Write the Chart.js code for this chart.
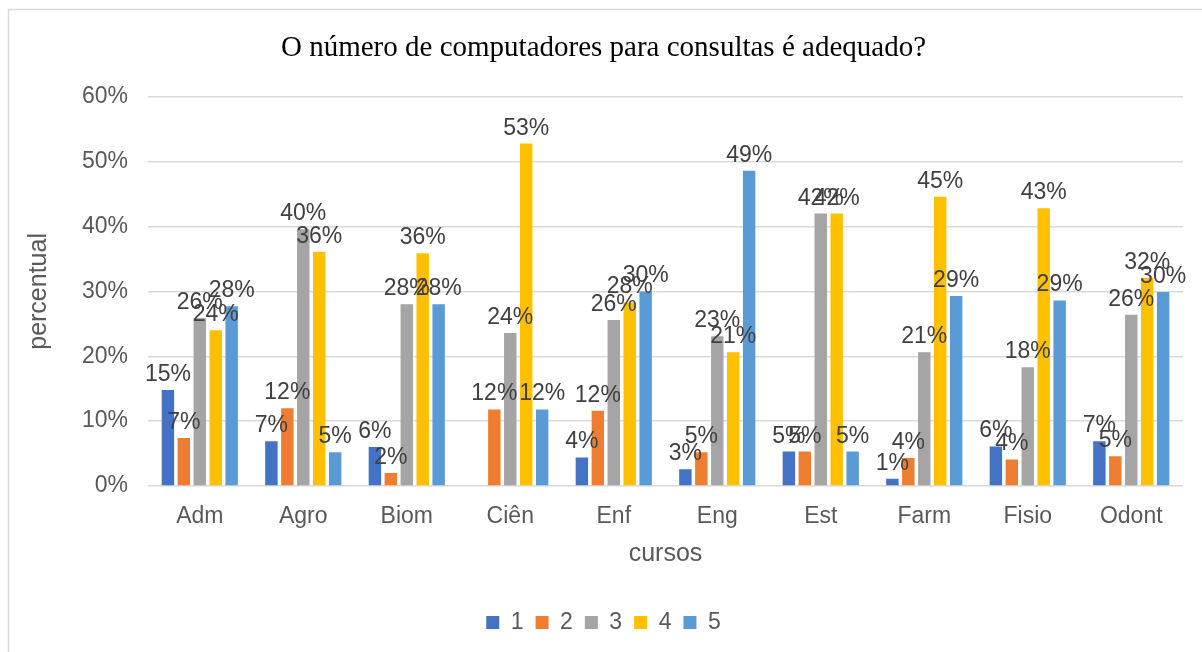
<!DOCTYPE html>
<html lang="pt">
<head>
  <meta charset="utf-8">
  <title>Computadores para consultas</title>
  <script src="https://cdn.jsdelivr.net/npm/chart.js@4.4.1/dist/chart.umd.min.js"></script>
  <style>
    body { margin: 0; background: #fff; }
    #wrap { width: 1202px; height: 652px; }
  </style>
</head>
<body>
  <div id="wrap"><canvas id="chart" width="1202" height="652"></canvas></div>
  <script>
    // cursos
    const cursos = ['Adm', 'Agro', 'Biom', 'Ciên', 'Enf', 'Eng', 'Est', 'Farm', 'Fisio', 'Odont'];
    // percentual por resposta (1 a 5)
    const resp1 = [14.8, 6.9, 6.0, 0, 4.4, 2.6, 5.3, 1.1, 6.1, 6.9];
    const resp2 = [7.4, 12.0, 2.0, 11.8, 11.6, 5.2, 5.3, 4.3, 4.1, 4.6];
    const resp3 = [25.9, 39.6, 28.0, 23.6, 25.6, 23.1, 42.0, 20.6, 18.3, 26.4];
    const resp4 = [24.0, 36.1, 35.9, 52.8, 28.3, 20.6, 42.0, 44.6, 42.8, 32.1];
    const resp5 = [27.7, 5.2, 28.0, 11.8, 30.0, 48.6, 5.3, 29.3, 28.6, 29.9];
    const serieNomes = ['1', '2', '3', '4', '5'];
    const cores = ['#4472C4', '#ED7D31', '#A5A5A5', '#FFC000', '#5B9BD5'];
    const yTicks = [0, 10, 20, 30, 40, 50, 60];

    const series = [resp1, resp2, resp3, resp4, resp5];

    // moldura cinza em volta do grafico
    const moldura = {
      id: 'moldura',
      beforeDraw(chart) {
        const ctx = chart.ctx;
        ctx.save();
        ctx.strokeStyle = '#d9d9d9';
        ctx.lineWidth = 1.5;
        ctx.beginPath();
        ctx.moveTo(8.5, 652);
        ctx.lineTo(8.5, 9.5);
        ctx.lineTo(1202, 9.5);
        ctx.stroke();
        ctx.restore();
      }
    };

    // rotulos de dados em cima das barras
    const rotulos = {
      id: 'rotulos',
      afterDatasetsDraw(chart) {
        const ctx = chart.ctx;
        ctx.save();
        ctx.font = '23px "Liberation Sans", Arial, sans-serif';
        ctx.fillStyle = '#404040';
        ctx.textAlign = 'center';
        ctx.textBaseline = 'alphabetic';
        chart.data.datasets.forEach((ds, i) => {
          const meta = chart.getDatasetMeta(i);
          meta.data.forEach((bar, j) => {
            const v = ds.data[j];
            if (!v) return;
            ctx.fillText(Math.round(v) + '%', bar.x, bar.y - 9);
          });
        });
        ctx.restore();
      }
    };

    const ctx = document.getElementById('chart').getContext('2d');
    new Chart(ctx, {
      type: 'bar',
      data: {
        labels: cursos,
        datasets: series.map((d, i) => ({
          label: serieNomes[i],
          data: d,
          backgroundColor: cores[i],
          barPercentage: 0.78,
          categoryPercentage: 0.77
        }))
      },
      options: {
        responsive: false,
        animation: false,
        layout: { padding: { left: 24, right: 19, top: 0, bottom: 8 } },
        plugins: {
          title: {
            display: true,
            text: 'O número de computadores para consultas é adequado?',
            color: '#000',
            font: { family: '"Liberation Serif", "Times New Roman", serif', size: 29, weight: 'normal' },
            padding: { top: 31, bottom: 31 }
          },
          legend: {
            position: 'bottom',
            labels: {
              boxWidth: 13,
              boxHeight: 13,
              padding: 12,
              color: '#595959',
              font: { family: '"Liberation Sans", Arial, sans-serif', size: 23 }
            }
          },
          tooltip: { enabled: false }
        },
        scales: {
          x: {
            grid: { display: false },
            border: { display: false },
            ticks: {
              color: '#595959',
              padding: 11,
              font: { family: '"Liberation Sans", Arial, sans-serif', size: 23, lineHeight: 1 }
            },
            title: {
              display: true,
              text: 'cursos',
              color: '#595959',
              font: { family: '"Liberation Sans", Arial, sans-serif', size: 25, lineHeight: 0.8 },
              padding: { top: 5, bottom: 35 }
            }
          },
          y: {
            min: 0,
            max: 60,
            afterBuildTicks(axis) {
              axis.ticks = yTicks.map(v => ({ value: v }));
            },
            grid: { color: '#d9d9d9', lineWidth: 1.5, drawTicks: false },
            border: { display: false },
            ticks: {
              color: '#595959',
              padding: 20,
              font: { family: '"Liberation Sans", Arial, sans-serif', size: 23 },
              callback: v => v + '%'
            },
            title: {
              display: true,
              text: 'percentual',
              color: '#595959',
              font: { family: '"Liberation Sans", Arial, sans-serif', size: 25 },
              padding: { top: 0, bottom: 8 }
            }
          }
        }
      },
      plugins: [moldura, rotulos]
    });
  </script>
</body>
</html>
